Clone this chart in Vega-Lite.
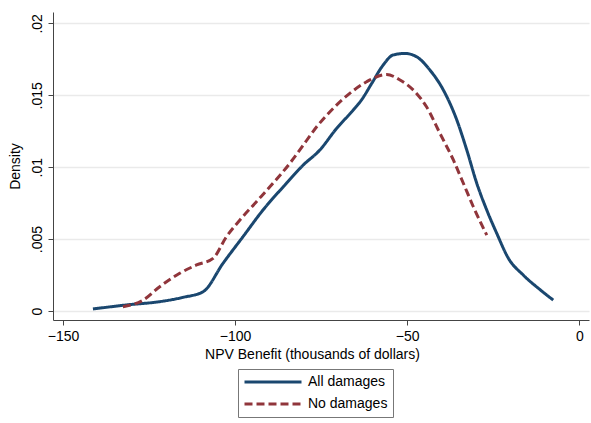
{
  "$schema": "https://vega.github.io/schema/vega-lite/v6.json",
  "width": 536,
  "height": 308,
  "autosize": {"type": "none"},
  "padding": {"left": 53, "top": 12, "right": 2, "bottom": 103},
  "background": "white",
  "config": {
    "view": {"stroke": null},
    "font": "Liberation Sans",
    "axis": {"labelFont": "Liberation Sans", "titleFont": "Liberation Sans", "labelColor": "#000", "titleColor": "#000", "titleFontWeight": "normal", "domainColor": "#444", "tickColor": "#444", "labelFontSize": 14, "titleFontSize": 14, "tickSize": 5},
    "legend": {"title": null, "orient": "none", "legendX": 185, "legendY": 357, "symbolType": "stroke", "symbolSize": 3249, "symbolStrokeWidth": 3, "clipHeight": 16, "labelFontSize": 14, "labelFont": "Liberation Sans", "labelColor": "#000", "strokeColor": "#777", "padding": 5, "rowPadding": 6, "labelOffset": 5, "labelExpr": "datum.label + '       '"}
  },
  "data": {"values": [
    {"x": -141.3, "density": 0.00014, "series": "All damages"},
    {"x": -131.6, "density": 0.00042, "series": "All damages"},
    {"x": -121.9, "density": 0.00065, "series": "All damages"},
    {"x": -115.1, "density": 0.00095, "series": "All damages"},
    {"x": -109.3, "density": 0.00134, "series": "All damages"},
    {"x": -103.5, "density": 0.00332, "series": "All damages"},
    {"x": -97.7, "density": 0.00517, "series": "All damages"},
    {"x": -91.9, "density": 0.00702, "series": "All damages"},
    {"x": -86.0, "density": 0.00864, "series": "All damages"},
    {"x": -80.2, "density": 0.01015, "series": "All damages"},
    {"x": -75.4, "density": 0.01119, "series": "All damages"},
    {"x": -70.5, "density": 0.0127, "series": "All damages"},
    {"x": -65.7, "density": 0.01397, "series": "All damages"},
    {"x": -63.3, "density": 0.01467, "series": "All damages"},
    {"x": -60.3, "density": 0.01583, "series": "All damages"},
    {"x": -57.0, "density": 0.0171, "series": "All damages"},
    {"x": -54.1, "density": 0.0178, "series": "All damages"},
    {"x": -50.7, "density": 0.01791, "series": "All damages"},
    {"x": -47.3, "density": 0.01768, "series": "All damages"},
    {"x": -43.4, "density": 0.01675, "series": "All damages"},
    {"x": -39.5, "density": 0.01536, "series": "All damages"},
    {"x": -35.6, "density": 0.01328, "series": "All damages"},
    {"x": -32.7, "density": 0.01119, "series": "All damages"},
    {"x": -29.8, "density": 0.00888, "series": "All damages"},
    {"x": -26.9, "density": 0.00702, "series": "All damages"},
    {"x": -24.0, "density": 0.0054, "series": "All damages"},
    {"x": -20.6, "density": 0.00366, "series": "All damages"},
    {"x": -16.3, "density": 0.0025, "series": "All damages"},
    {"x": -11.3, "density": 0.00146, "series": "All damages"},
    {"x": -7.6, "density": 0.00076, "series": "All damages"},
    {"x": -132.6, "density": 0.0003, "series": "No damages"},
    {"x": -126.7, "density": 0.00076, "series": "No damages"},
    {"x": -121.9, "density": 0.00169, "series": "No damages"},
    {"x": -116.1, "density": 0.00262, "series": "No damages"},
    {"x": -111.2, "density": 0.0032, "series": "No damages"},
    {"x": -106.4, "density": 0.00366, "series": "No damages"},
    {"x": -102.5, "density": 0.00517, "series": "No damages"},
    {"x": -98.6, "density": 0.00633, "series": "No damages"},
    {"x": -93.8, "density": 0.0076, "series": "No damages"},
    {"x": -89.0, "density": 0.00888, "series": "No damages"},
    {"x": -84.1, "density": 0.01027, "series": "No damages"},
    {"x": -81.2, "density": 0.0112, "series": "No damages"},
    {"x": -76.3, "density": 0.01281, "series": "No damages"},
    {"x": -71.5, "density": 0.01409, "series": "No damages"},
    {"x": -66.7, "density": 0.01513, "series": "No damages"},
    {"x": -61.8, "density": 0.01594, "series": "No damages"},
    {"x": -56.0, "density": 0.01645, "series": "No damages"},
    {"x": -52.1, "density": 0.01606, "series": "No damages"},
    {"x": -47.3, "density": 0.01513, "series": "No damages"},
    {"x": -44.4, "density": 0.0142, "series": "No damages"},
    {"x": -40.5, "density": 0.01235, "series": "No damages"},
    {"x": -36.6, "density": 0.0105, "series": "No damages"},
    {"x": -33.7, "density": 0.00888, "series": "No damages"},
    {"x": -30.8, "density": 0.00725, "series": "No damages"},
    {"x": -26.9, "density": 0.00528, "series": "No damages"}
  ]},
  "mark": {"type": "line", "interpolate": "monotone", "strokeWidth": 3},
  "encoding": {
    "x": {
      "field": "x", "type": "quantitative",
      "scale": {"domain": [-152.9, 2.8], "nice": false, "zero": false},
      "axis": {"values": [-150, -100, -50, 0], "grid": false, "title": "NPV Benefit (thousands of dollars)", "labelPadding": 4, "titlePadding": 4, "titleX": 259}
    },
    "y": {
      "field": "density", "type": "quantitative",
      "scale": {"domain": [-0.000626, 0.02079], "nice": false, "zero": false},
      "axis": {"values": [0, 0.005, 0.01, 0.015, 0.02], "grid": true, "gridColor": "#eaeaea", "gridWidth": 1.5, "title": "Density", "labelAngle": -90, "labelAlign": "center", "labelBaseline": "bottom", "labelPadding": 4, "titlePadding": 8, "labelExpr": "replace(format(datum.value, '.3~f'), '0.', '.')"}
    },
    "color": {
      "field": "series", "type": "nominal",
      "scale": {"domain": ["All damages", "No damages"], "range": ["#1a476f", "#90353b"]},
      "legend": {}
    },
    "strokeDash": {
      "field": "series", "type": "nominal",
      "scale": {"domain": ["All damages", "No damages"], "range": [[1, 0], [8, 4]]},
      "legend": {}
    }
  }
}
